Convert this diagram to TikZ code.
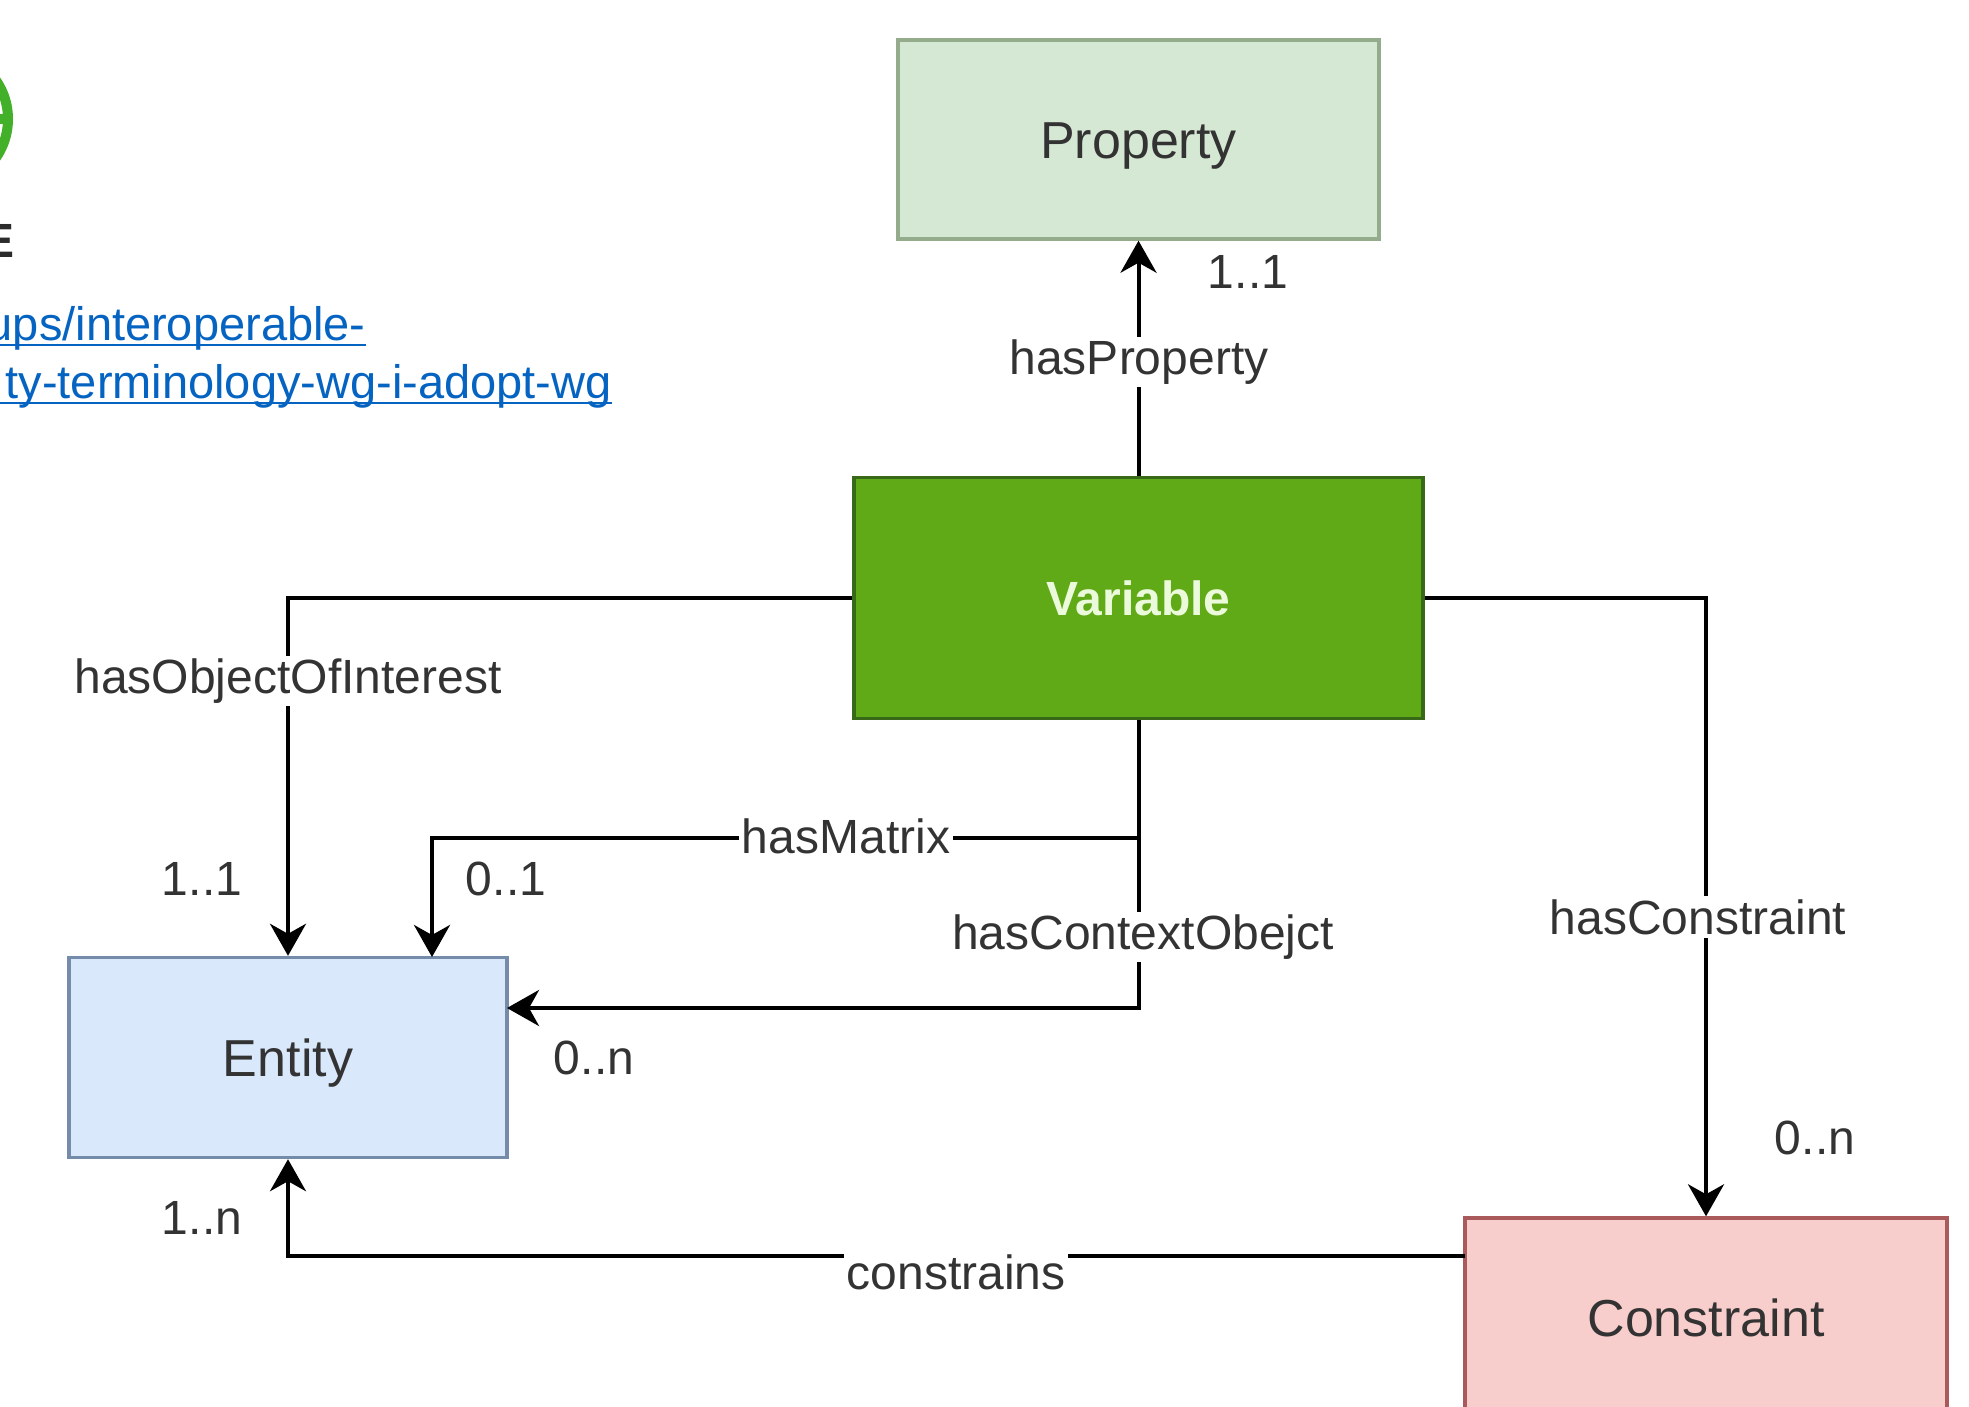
\documentclass[tikz,border=0pt]{standalone}
\usepackage{fontspec}
\setmainfont{Liberation Sans}
\usetikzlibrary{arrows.meta}
\definecolor{txt}{HTML}{333333}
\definecolor{linkblue}{HTML}{0563C1}
\definecolor{logogreen}{RGB}{67,176,42}
\definecolor{logodark}{RGB}{43,43,43}
\tikzset{
  x=0.5pt,y=-0.5pt,
  box/.style={draw,line width=1.7pt,inner sep=0pt,text=txt,font=\fontsize{26}{30}\selectfont,anchor=center},
  capcentred/.style={text height=18.6pt,text depth=0pt},
  lbl/.style={fill=white,inner sep=1.5pt,text=txt,font=\fontsize{24}{28}\selectfont,anchor=center},
  card/.style={inner sep=0pt,text=txt,font=\fontsize{24}{28}\selectfont,anchor=center},
  conn/.style={draw=black,line width=2pt,-{Stealth[length=16pt,width=18pt,inset=5pt]}},
  plainconn/.style={draw=black,line width=2pt},
  linktext/.style={inner sep=0pt,text=linkblue,font=\fontsize{23.5}{28}\selectfont,anchor=base east},
  linkrule/.style={draw=linkblue,line width=1.2pt}
}
\begin{document}
\begin{tikzpicture}
\useasboundingbox (0,0) rectangle (1969,1407);
\fill[white] (0,0) rectangle (1969,1407);
\begin{scope}
\clip (0,0) rectangle (1969,1407);
% partial logo at the left edge
\draw[draw=logogreen,line width=5pt] (-60,119) circle[radius=68];
\fill[logogreen] (0,114) rectangle (4,124);
\node[inner sep=0pt,anchor=base east,text=logodark,font=\bfseries\fontsize{24}{28}\selectfont] (logoE) at (15,257) {E};
% link
\node[linktext] (linkA) at (366,340) {ups/interoperable-};
\node[linktext] (linkB) at (612,398) {ty-terminology-wg-i-adopt-wg};
\coordinate (ruleAs) at (0,345); \coordinate (ruleAe) at (366,345);
\coordinate (ruleBs) at (0,403); \coordinate (ruleBe) at (612,403);
\draw[linkrule] (ruleAs) -- (ruleAe);
\draw[linkrule] (ruleBs) -- (ruleBe);
% boxes
\node[box,capcentred,fill={rgb,255:red,213;green,232;blue,212},draw={rgb,255:red,148;green,172;blue,140},minimum width=240.5pt,minimum height=99.5pt] (property) at (1138.5,139.5) {Property};
\node[box,fill={rgb,255:red,96;green,169;blue,23},draw={rgb,255:red,55;green,105;blue,25},minimum width=284.5pt,minimum height=120.5pt,text={rgb,255:red,236;green,250;blue,220},font=\bfseries\fontsize{24}{28}\selectfont] (variable) at (1138.5,598) {Variable};
\node[box,capcentred,fill={rgb,255:red,218;green,232;blue,252},draw={rgb,255:red,116;green,139;blue,170},minimum width=219pt,minimum height=100pt] (entity) at (288,1057.5) {Entity};
\node[box,fill={rgb,255:red,248;green,206;blue,204},draw={rgb,255:red,170;green,90;blue,90},minimum width=241pt,minimum height=100pt] (constraint) at (1706,1318) {Constraint};
% bend and end points
\coordinate (mA) at (1138.5,838);
\coordinate (mB) at (432,838);
\coordinate (mC) at (432,957);
\coordinate (cA) at (1138.5,1008);
\coordinate (cB) at (507,1008);
\coordinate (cnA) at (1465,1256);
\coordinate (cnB) at (288,1256);
% connectors
\draw[conn] (variable.north) -- (property.south);
\draw[conn] (variable.west) -| (entity.north);
\draw[plainconn] (variable.south) -- (mA);
\draw[conn] (mA) -- (mB) -- (mC);
\draw[conn] (mA) -- (cA) -- (cB);
\draw[conn] (variable.east) -| (constraint.north);
\draw[conn] (cnA) -- (cnB) -- (entity.south);
% connector labels
\node[lbl] (lProp) at (1139,362) {hasProperty};
\node[lbl] (lObj) at (288,681) {hasObjectOfInterest};
\node[lbl] (lMat) at (846,836) {hasMatrix};
\node[lbl] (lCtx) at (1143,937) {hasContextObejct};
\node[lbl] (lCon) at (1698,917) {hasConstraint};
\node[lbl] (lCns) at (956,1272) {constrains};
% cardinalities
\node[card] (c1) at (1248,272) {1..1};
\node[card] (c2) at (202,879) {1..1};
\node[card] (c3) at (506,879) {0..1};
\node[card] (c4) at (594,1058) {0..n};
\node[card] (c5) at (1815,1138) {0..n};
\node[card] (c6) at (202,1218) {1..n};
\end{scope}
\end{tikzpicture}
\end{document}
